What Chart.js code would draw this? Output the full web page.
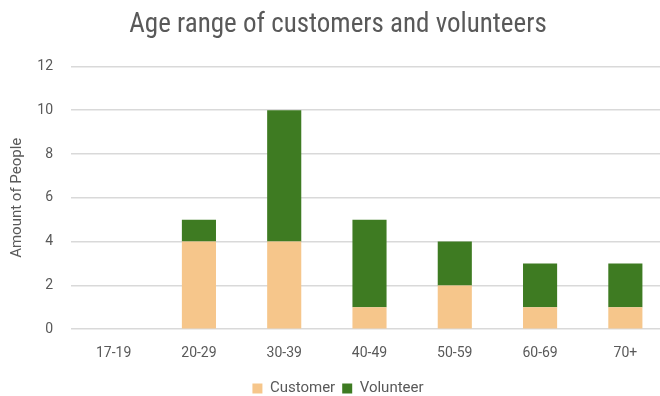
<!DOCTYPE html>
<html>
<head>
<meta charset="utf-8">
<script src="https://cdn.jsdelivr.net/npm/chart.js@4"></script>
<style>
  html, body { margin: 0; padding: 0; background: #fff; }
  #wrap { width: 660px; height: 396px; overflow: hidden; position: relative; }
  #box { position: absolute; left: 0; top: 0; width: 672px; height: 396px; }
</style>
</head>
<body>
<div id="wrap"><div id="box"><canvas id="chart"></canvas></div></div>
<script>
const categories = ['17-19', '20-29', '30-39', '40-49', '50-59', '60-69', '70+'];
const customers  = [0, 4, 4, 1, 2, 1, 1];
const volunteers = [0, 1, 6, 4, 2, 2, 2];
const yTicks = [0, 2, 4, 6, 8, 10, 12];

const textColor = '#595959';
const gridColor = '#d9d9d9';

new Chart(document.getElementById('chart'), {
  type: 'bar',
  data: {
    labels: categories,
    datasets: [
      { label: 'Customer', data: customers, backgroundColor: '#f6c68b', categoryPercentage: 1, barPercentage: 0.4 },
      { label: 'Volunteer', data: volunteers, backgroundColor: '#3e7b22', categoryPercentage: 1, barPercentage: 0.4 }
    ]
  },
  options: {
    responsive: true,
    maintainAspectRatio: false,
    animation: false,
    layout: { padding: { top: 0, right: 4, bottom: -10, left: 8 } },
    plugins: {
      title: {
        display: true,
        text: 'Age range of customers and volunteers',
        color: textColor,
        font: { family: '"Liberation Sans Narrow", "Arial Narrow", "Roboto Condensed", sans-serif', size: 27, weight: 'normal' },
        padding: { top: 9, bottom: 25 }
      },
      legend: {
        position: 'bottom',
        labels: {
          color: textColor,
          font: { family: 'Roboto, "Liberation Sans", sans-serif', size: 15 },
          boxWidth: 10, boxHeight: 10, padding: 7
        }
      },
      tooltip: { enabled: false }
    },
    scales: {
      x: {
        stacked: true,
        afterFit: (axis) => { axis.height += 4; },
        grid: { display: false },
        border: { display: false },
        ticks: { color: textColor, font: { family: 'Roboto, "Liberation Sans", sans-serif', size: 14 }, padding: 8 }
      },
      y: {
        stacked: true,
        min: 0, max: 12,
        afterBuildTicks: (axis) => { axis.ticks = yTicks.map(v => ({ value: v })); },
        afterFit: (axis) => { axis.width = 63; },
        grid: { color: gridColor, lineWidth: 1.5, drawTicks: false },
        border: { display: false },
        ticks: { color: textColor, font: { family: 'Roboto, "Liberation Sans", sans-serif', size: 14 }, padding: 18 },
        title: {
          display: true,
          text: 'Amount of People',
          color: textColor,
          font: { family: 'Roboto, "Liberation Sans", sans-serif', size: 15 },
          padding: { top: 0, bottom: 4 }
        }
      }
    }
  }
});
</script>
</body>
</html>
